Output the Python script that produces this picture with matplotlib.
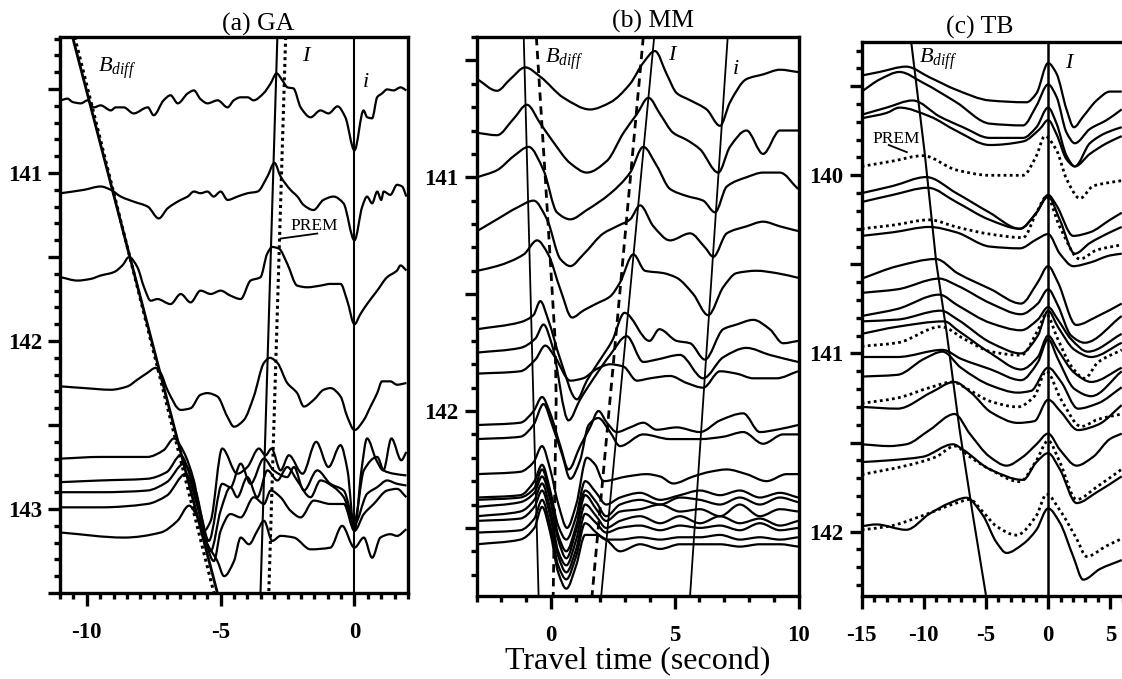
import matplotlib
matplotlib.use('Agg')
import matplotlib.pyplot as plt
from matplotlib.ticker import MultipleLocator, FuncFormatter
from matplotlib.path import Path
from matplotlib.patches import PathPatch

plt.rcParams['font.family'] = ['Liberation Serif', 'DejaVu Serif']
plt.rcParams['font.weight'] = 'bold'
plt.rcParams['mathtext.fontset'] = 'custom'
plt.rcParams['mathtext.rm'] = 'Liberation Serif:weight=normal'
plt.rcParams['mathtext.it'] = 'Liberation Serif:style=italic:weight=normal'

# ---------------- (a) GA : travel time (s) vs distance (deg) ----------------
ga_t1 = [-10.97,-10.72,-10.53,-10.22,-9.97,-9.74,-9.48,-9.1,-8.92,-8.62,-8.25,-7.72,-7.5,-7.13,-6.87,-6.6,-6.23,-6.0,-5.75,-5.49,-5.11,-4.74,-4.51,-4.25,-3.99,-3.77,-3.4,-3.13,-2.91,-2.69,-2.5,-2.28,-2.01,-1.64,-1.27,-0.97,-0.63,-0.34,0.0,0.34,0.47,0.66,0.85,1.03,1.22,1.46,1.72,1.94]
ga_d1 = [140.567,140.557,140.577,140.585,140.567,140.609,140.597,140.627,140.609,140.609,140.645,140.609,140.656,140.567,140.537,140.585,140.526,140.508,140.56,140.585,140.567,140.609,140.567,140.549,140.549,140.567,140.526,140.466,140.407,140.449,140.49,140.496,140.609,140.668,140.627,140.645,140.603,140.668,140.865,140.627,140.667,140.674,140.548,140.526,140.502,140.508,140.49,140.508]
ga_t2 = [-10.97,-10.11,-9.48,-9.1,-8.73,-8.25,-7.72,-7.31,-6.98,-6.49,-6.23,-6.0,-5.75,-5.49,-5.26,-5.0,-4.74,-4.37,-3.99,-3.62,-3.25,-2.99,-2.76,-2.39,-2.13,-1.9,-1.53,-1.16,-0.78,-0.41,0.0,0.29,0.47,0.66,0.85,1.0,1.09,1.34,1.59,1.78,1.94]
ga_d2 = [141.12,141.10,141.08,141.10,141.14,141.17,141.20,141.27,141.21,141.16,141.14,141.11,141.12,141.11,141.14,141.11,141.16,141.14,141.12,141.11,141.02,140.94,141.02,141.10,141.14,141.19,141.22,141.16,141.14,141.18,141.40,141.20,141.14,141.18,141.11,141.16,141.11,141.13,141.07,141.08,141.14]
ga_t3 = [-10.97,-10.35,-9.85,-9.48,-8.99,-8.67,-8.42,-8.11,-7.86,-7.61,-7.36,-6.87,-6.49,-6.12,-5.75,-5.37,-5.0,-4.63,-4.25,-3.88,-3.51,-3.26,-3.07,-2.82,-2.51,-2.14,-1.76,-1.27,-0.9,-0.52,-0.27,0.0,0.22,0.47,0.85,1.22,1.59,1.72,1.94]
ga_d3 = [141.62,141.64,141.63,141.61,141.59,141.55,141.50,141.56,141.68,141.76,141.75,141.78,141.72,141.77,141.70,141.72,141.70,141.73,141.75,141.64,141.62,141.48,141.44,141.45,141.54,141.67,141.68,141.67,141.66,141.66,141.76,141.90,141.84,141.78,141.70,141.62,141.58,141.55,141.58]
ga_t4 = [-10.97,-10.1,-9.1,-8.48,-8.11,-7.74,-7.43,-7.24,-6.99,-6.49,-6.12,-5.75,-5.5,-5.12,-4.75,-4.5,-4.13,-3.76,-3.38,-3.16,-2.88,-2.51,-2.14,-1.89,-1.52,-1.15,-0.9,-0.52,-0.27,0.0,0.35,0.6,0.85,1.03,1.34,1.59,1.94]
ga_d4 = [142.27,142.28,142.29,142.27,142.23,142.19,142.16,142.19,142.29,142.41,142.40,142.32,142.31,142.33,142.45,142.51,142.47,142.33,142.13,142.10,142.13,142.25,142.31,142.39,142.35,142.29,142.28,142.33,142.45,142.53,142.47,142.39,142.31,142.24,142.24,142.26,142.25]
ga_t5 = [-10.97,-9.48,-7.74,-7.13,-6.74,-6.38,-6.0,-5.62,-5.37,-4.94,-4.38,-4.0,-3.57,-3.32,-3.1,-2.76,-2.45,-1.94,-1.43,-0.97,-0.52,-0.26,0.0,0.26,0.47,0.82,1.08,1.38,1.75,1.94]
ga_d5 = [142.70,142.69,142.69,142.65,142.58,142.66,142.83,143.13,143.07,142.64,142.79,142.75,142.64,142.68,142.64,142.77,142.68,142.79,142.60,142.75,142.62,142.77,143.13,142.77,142.58,142.71,142.77,142.58,142.71,142.66]
ga_t6 = [-10.97,-9.48,-7.74,-7.01,-6.49,-6.12,-5.75,-5.44,-4.94,-4.63,-4.25,-3.88,-3.38,-3.02,-2.51,-2.26,-1.89,-1.39,-0.9,-0.4,0.0,0.35,0.85,1.09,1.47,1.94]
ga_d6 = [142.84,142.83,142.82,142.78,142.68,142.81,143.02,143.19,142.85,142.87,142.73,142.85,142.70,142.77,142.81,142.75,142.89,142.77,142.85,142.89,143.07,142.77,142.69,142.77,142.79,142.80]
ga_t7 = [-10.97,-9.48,-7.74,-7.01,-6.37,-5.93,-5.37,-5.0,-4.63,-4.38,-4.0,-3.63,-3.25,-2.88,-2.51,-2.14,-1.64,-1.27,-0.77,-0.4,0.0,0.47,0.85,1.22,1.59,1.94]
ga_d7 = [142.90,142.90,142.89,142.84,142.73,142.89,143.25,143.01,142.87,142.93,142.81,142.93,142.77,142.83,142.75,142.83,142.93,142.83,142.87,142.93,143.09,142.91,142.87,142.83,142.85,142.86]
ga_t8 = [-10.97,-9.48,-7.74,-7.01,-6.3,-5.82,-5.25,-5.0,-4.63,-4.25,-3.76,-3.38,-3.13,-2.76,-2.39,-2.01,-1.52,-0.9,-0.4,0.0,0.35,0.72,1.22,1.59,1.94]
ga_d8 = [142.99,142.99,142.97,142.92,142.79,143.01,143.31,143.13,143.03,143.05,142.93,142.97,142.89,142.93,143.01,143.05,142.95,142.97,142.97,143.13,143.03,142.97,142.89,142.88,142.93]
ga_t9 = [-10.97,-8.61,-7.24,-6.61,-6.18,-5.86,-5.49,-5.12,-4.87,-4.5,-4.25,-3.94,-3.63,-3.38,-3.07,-2.76,-2.26,-1.64,-0.9,-0.46,0.0,0.35,0.66,0.97,1.34,1.59,1.94]
ga_d9 = [143.14,143.17,143.14,143.07,142.98,143.05,143.21,143.31,143.40,143.31,143.17,143.21,143.13,143.07,143.19,143.16,143.17,143.24,143.23,143.10,143.23,143.17,143.29,143.17,143.15,143.16,143.12]

# phase lines (a)
ga_line_d = [140.19, 143.5]
ga_bdiff_t = [-10.53, -5.12]
ga_bdiff_prem_t = [-10.45, -5.25]
ga_I_t = [-2.88, -3.51]
ga_I_prem_t = [-2.57, -3.20]
ga_i_t = [0.0, 0.0]

# ---------------- (b) MM ----------------
mm_t1 = [-2.98,-2.18,-1.64,-1.04,-0.43,0.51,1.58,2.39,3.2,3.73,4.2,4.68,5.08,5.61,6.29,6.83,7.23,7.9,8.57,9.25,9.98]
mm_d1 = [140.58,140.63,140.58,140.53,140.57,140.66,140.71,140.68,140.60,140.51,140.46,140.56,140.64,140.67,140.71,140.78,140.68,140.58,140.56,140.54,140.55]
mm_t2 = [-2.98,-2.18,-1.51,-0.97,-0.43,0.1,0.78,1.45,2.26,2.93,3.47,3.94,4.41,4.94,5.48,6.02,6.76,7.23,7.9,8.57,9.25,9.98]
mm_d2 = [140.81,140.82,140.75,140.69,140.77,140.85,140.94,140.98,140.93,140.81,140.73,140.66,140.73,140.81,140.84,140.88,140.98,140.87,140.80,140.90,140.80,140.80]
mm_t3 = [-2.98,-2.18,-1.51,-0.9,-0.3,0.24,0.78,1.45,2.39,3.2,3.73,4.27,4.81,5.48,6.15,6.63,7.1,7.9,8.57,9.25,9.98]
mm_d3 = [141.00,140.97,140.91,140.87,140.97,141.15,141.18,141.14,141.07,140.98,140.87,140.95,141.05,141.08,141.10,141.15,141.04,141.00,140.98,140.98,141.05]
mm_t4 = [-2.98,-2.18,-1.37,-0.7,-0.16,0.38,0.78,1.31,2.12,2.66,3.2,3.6,4.14,4.81,5.62,6.22,6.56,7.1,7.9,8.57,9.25,9.98]
mm_d4 = [141.23,141.18,141.13,141.10,141.18,141.35,141.38,141.33,141.24,141.21,141.18,141.12,141.21,141.27,141.24,141.30,141.34,141.24,141.21,141.19,141.21,141.23]
mm_t5 = [-2.98,-2.18,-1.1,-0.56,-0.11,0.38,0.85,1.31,1.85,2.39,2.79,3.33,3.8,4.54,5.08,5.75,6.35,6.96,7.5,8.31,9.11,9.98]
mm_d5 = [141.40,141.38,141.33,141.27,141.33,141.48,141.60,141.57,141.54,141.51,141.45,141.33,141.40,141.41,141.43,141.50,141.59,141.47,141.41,141.40,141.41,141.43]
mm_t6 = [-2.98,-1.24,-0.71,-0.43,-0.11,0.38,1.05,1.45,1.99,2.47,2.97,3.98,4.38,5.08,5.62,6.22,6.96,7.5,8.17,8.84,9.38,9.98]
mm_d6 = [141.65,141.62,141.59,141.53,141.61,141.78,141.95,141.87,141.78,141.70,141.58,141.70,141.65,141.70,141.71,141.78,141.65,141.63,141.61,141.65,141.71,141.70]
mm_t7 = [-2.98,-1.24,-0.63,-0.3,0.05,0.71,1.18,1.79,2.39,3.06,3.73,4.27,5.21,6.15,6.96,7.9,8.84,9.98]
mm_d7 = [141.75,141.73,141.69,141.63,141.72,142.04,141.95,141.85,141.76,141.68,141.79,141.78,141.76,141.86,141.77,141.73,141.76,141.79]
mm_t8 = [-2.98,-1.24,-0.63,-0.23,0.17,0.78,1.3,1.85,2.39,2.93,3.47,4.01,4.81,5.48,6.15,6.83,7.5,8.17,9.11,9.98]
mm_d8 = [141.84,141.83,141.78,141.72,141.77,141.87,141.86,141.82,141.80,141.81,141.87,141.86,141.85,141.88,141.90,141.83,141.84,141.86,141.86,141.83]
mm_t9 = [-2.98,-1.24,-0.7,-0.36,-0.03,0.38,0.71,1.18,1.58,1.92,2.26,2.66,3.2,3.73,4.27,5.08,6.02,6.83,7.77,8.44,9.11,9.98]
mm_d9 = [142.06,142.05,142.00,141.94,142.01,142.15,142.25,142.15,142.07,142.00,142.05,142.09,142.07,142.05,142.08,142.07,142.09,142.04,142.01,142.09,142.08,142.06]
mm_t10 = [-2.98,-1.24,-0.71,-0.3,0.05,0.46,0.78,1.18,1.52,1.91,2.39,2.79,3.73,4.81,6.02,6.96,7.77,8.57,9.38,9.98]
mm_d10 = [142.12,142.11,142.06,141.97,142.06,142.19,142.29,142.21,142.06,142.03,142.09,142.15,142.10,142.12,142.12,142.11,142.09,142.14,142.10,142.10]
mm_t11 = [-2.98,-1.24,-0.71,-0.36,-0.03,0.3,0.65,1.02,1.45,1.79,2.12,3.06,3.87,4.41,4.94,5.75,6.42,7.1,7.9,8.71,9.52,9.98]
mm_d11 = [142.27,142.26,142.22,142.15,142.25,142.40,142.50,142.40,142.20,142.23,142.30,142.28,142.27,142.28,142.31,142.28,142.26,142.25,142.27,142.30,142.27,142.27]
# lower cluster read on a common set of times
mm_tgrid = [-2.98,-1.24,-0.67,-0.36,-0.03,0.29,0.62,1.02,1.38,1.83,2.23,2.79,3.6,4.41,5.21,6.02,6.83,7.63,8.44,9.25,9.98]
mm_d12 = [142.37,142.36,142.30,142.23,142.34,142.49,142.55,142.45,142.30,142.35,142.40,142.37,142.35,142.38,142.36,142.34,142.36,142.34,142.37,142.35,142.37]
mm_d13 = [142.38,142.37,142.33,142.25,142.36,142.53,142.60,142.49,142.34,142.39,142.45,142.40,142.38,142.40,142.37,142.38,142.40,142.37,142.40,142.37,142.39]
mm_d14 = [142.41,142.39,142.35,142.28,142.38,142.55,142.63,142.51,142.36,142.42,142.47,142.43,142.42,142.40,142.43,142.42,142.45,142.40,142.45,142.42,142.43]
mm_d15 = [142.45,142.43,142.38,142.31,142.42,142.60,142.66,142.55,142.40,142.45,142.50,142.47,142.45,142.48,142.45,142.48,142.45,142.48,142.46,142.49,142.47]
mm_d16 = [142.47,142.46,142.41,142.34,142.45,142.62,142.69,142.59,142.44,142.48,142.52,142.50,142.49,142.51,142.49,142.50,142.49,142.51,142.48,142.51,142.50]
mm_d17 = [142.52,142.51,142.46,142.38,142.49,142.66,142.72,142.62,142.48,142.52,142.55,142.55,142.54,142.55,142.54,142.54,142.53,142.55,142.54,142.55,142.54]
mm_d18 = [142.57,142.55,142.50,142.41,142.52,142.69,142.76,142.66,142.53,142.53,142.55,142.60,142.57,142.59,142.57,142.57,142.57,142.58,142.57,142.57,142.58]

# phase lines (b)
mm_line_d = [140.40, 142.79]
mm_bdiff_t = [-1.10, -0.50]
mm_I_t = [4.17, 2.03]
mm_I_prem_t = [3.73, 1.66]
mm_i_t = [7.14, 5.62]
mm_bdiff_prem_t = [-0.59, -0.23, 0.17, 0.21, 0.09]
mm_bdiff_prem_d = [140.40, 141.0, 141.7, 141.95, 142.79]

# ---------------- (c) TB ----------------
tb_t1 = [-15,-13.58,-11.42,-9.54,-7.39,-4.7,-1.74,-0.94,0,0.68,1.48,2.07,2.82,3.9,4.98,5.92]
tb_d1 = [139.44,139.42,139.39,139.45,139.52,139.58,139.59,139.54,139.37,139.43,139.63,139.73,139.67,139.58,139.53,139.53]
tb_t2 = [-15,-13.5,-11.96,-10.08,-7.39,-4.7,-2.02,-0.94,0,0.68,1.48,2.15,3.36,4.71,5.92]
tb_d2 = [139.53,139.46,139.42,139.48,139.59,139.71,139.72,139.61,139.49,139.56,139.76,139.82,139.74,139.69,139.63]
tb_t3 = [-15,-13.0,-10.89,-8.73,-6.85,-4.7,-2.02,-0.94,0,0.68,1.48,2.15,3.36,4.71,5.92]
tb_d3 = [139.66,139.62,139.58,139.67,139.73,139.79,139.79,139.73,139.62,139.71,139.89,139.95,139.82,139.76,139.73]
tb_t4 = [-15,-13.0,-11.96,-9.5,-7.39,-4.7,-2.02,-0.67,0,0.68,1.48,2.15,3.36,4.71,5.92]
tb_d4 = [139.68,139.65,139.62,139.67,139.75,139.83,139.81,139.74,139.69,139.77,139.91,139.95,139.88,139.82,139.78]
tb_t6 = [-15,-12.5,-9.81,-7.39,-4.7,-2.28,-0.94,0,0.68,2.02,3.36,4.98,5.92]
tb_d6 = [140.10,140.06,140.01,140.10,140.21,140.30,140.21,140.11,140.17,140.34,140.32,140.25,140.21]
tb_t7 = [-15,-12.5,-9.68,-7.39,-4.7,-2.28,-0.94,0,0.94,2.15,3.36,4.98,5.92]
tb_d7 = [140.15,140.11,140.07,140.15,140.25,140.30,140.21,140.12,140.25,140.44,140.38,140.32,140.29]
tb_t9 = [-15,-12.5,-9.54,-7.39,-4.7,-2.28,-0.94,0,0.94,2.02,3.36,4.98,5.92]
tb_d9 = [140.34,140.32,140.29,140.32,140.40,140.41,140.36,140.33,140.44,140.51,140.49,140.45,140.44]
tb_t10 = [-15,-12.12,-9.03,-7.28,-4.6,-2.18,-0.83,0,0.78,2.26,4.01,5.92]
tb_d10 = [140.58,140.51,140.47,140.55,140.64,140.72,140.60,140.51,140.60,140.84,140.79,140.72]
tb_t11 = [-15,-12.12,-8.76,-7.28,-4.6,-2.18,-0.83,0,0.78,1.85,2.94,5.92]
tb_d11 = [140.66,140.64,140.58,140.62,140.72,140.78,140.72,140.64,140.73,140.90,140.94,140.79]
tb_t12 = [-15,-12.12,-8.76,-7.28,-4.6,-2.18,-0.83,0,0.78,1.85,3.2,5.92]
tb_d12 = [140.79,140.75,140.67,140.73,140.83,140.87,140.81,140.74,140.81,140.92,140.99,140.89]
tb_t13 = [-15,-12.12,-8.63,-7.28,-4.6,-2.18,-0.83,0,0.78,2.13,3.47,5.92]
tb_d13 = [140.82,140.81,140.76,140.81,140.94,141.00,140.90,140.76,140.85,140.98,141.02,140.94]
tb_t14 = [-15,-12.12,-8.35,-7.28,-4.6,-2.18,-0.83,0,0.78,2.13,3.47,5.92]
tb_d14 = [140.89,140.85,140.82,140.87,141.00,141.09,141.02,140.90,140.98,141.11,141.16,141.08]
tb_t16 = [-15,-12.12,-8.49,-7.02,-4.6,-2.18,-0.83,0,0.78,2.13,3.47,5.92]
tb_d16 = [141.02,141.02,140.98,141.03,141.09,141.15,141.05,140.92,141.03,141.20,141.24,141.10]
tb_t17 = [-15,-12.12,-9.97,-8.49,-7.02,-4.6,-2.44,-1.37,0,1.05,2.4,4.01,5.92]
tb_d17 = [141.13,141.12,141.03,140.99,141.08,141.18,141.22,141.21,141.08,141.16,141.31,141.28,141.19]
tb_t19 = [-15,-12.12,-9.44,-7.55,-6.21,-4.6,-2.44,-1.1,0,1.05,2.4,4.01,5.92]
tb_d19 = [141.30,141.31,141.22,141.16,141.22,141.33,141.39,141.38,141.26,141.33,141.43,141.40,141.29]
tb_t20 = [-15,-12.77,-11.42,-9.54,-7.52,-6.31,-4.7,-3.35,-2.02,-0.94,0,0.94,2.29,3.63,4.98,5.92]
tb_d20 = [141.51,141.52,141.51,141.43,141.34,141.45,141.58,141.63,141.58,141.51,141.45,141.54,141.63,141.58,141.48,141.45]
tb_t21 = [-15,-12.77,-10.08,-7.66,-6.85,-4.7,-2.02,-0.94,0,0.94,2.29,3.9,5.92]
tb_d21 = [141.61,141.60,141.58,141.51,141.54,141.65,141.71,141.61,141.56,141.65,141.84,141.78,141.69]
tb_t23 = [-15,-13.84,-11.42,-9.54,-7.93,-6.58,-5.24,-4.16,-3.35,-2.02,-0.94,0,0.94,2.02,2.82,4.17,5.92]
tb_d23 = [141.97,141.96,141.99,141.90,141.84,141.81,141.91,142.06,142.12,142.07,141.99,141.87,141.95,142.14,142.27,142.21,142.16]
# PREM synthetics (dotted)
tb_t5 = [-15,-12.5,-10.08,-7.39,-4.7,-2.02,-0.94,-0.27,0.68,1.48,2.56,3.63,4.98,5.92]
tb_d5 = [139.95,139.92,139.89,139.97,140.00,140.00,139.89,139.78,139.86,140.02,140.13,140.06,140.04,140.03]
tb_t8 = [-15,-12.5,-9.54,-7.39,-4.7,-2.02,-0.94,-0.13,0.94,2.56,3.9,5.92]
tb_d8 = [140.30,140.28,140.25,140.29,140.33,140.35,140.21,140.12,140.29,140.47,140.42,140.39]
tb_t15 = [-15,-12.12,-8.63,-6.72,-4.6,-2.18,-0.83,-0.16,0.78,1.85,2.94,4.01,5.92]
tb_d15 = [140.96,140.94,140.85,140.92,140.99,141.01,140.87,140.78,140.92,141.07,141.14,141.05,140.98]
tb_t18 = [-15,-12.12,-9.44,-7.69,-6.48,-4.6,-2.44,-1.1,-0.16,1.05,2.66,4.01,5.92]
tb_d18 = [141.28,141.25,141.19,141.16,141.20,141.27,141.30,141.24,141.10,141.26,141.41,141.37,141.34]
tb_t22 = [-15,-11.42,-9.0,-7.52,-6.31,-4.7,-2.28,-0.94,0,0.94,2.29,3.9,5.92]
tb_d22 = [141.68,141.63,141.58,141.52,141.58,141.65,141.72,141.60,141.49,141.61,141.82,141.75,141.65]
tb_t24 = [-15,-12.77,-10.08,-7.39,-6.31,-5.24,-4.16,-2.55,-0.94,-0.13,0.94,2.29,3.1,4.71,5.92]
tb_d24 = [141.99,141.97,141.91,141.84,141.82,141.89,141.97,142.02,141.91,141.79,141.88,142.04,142.14,142.08,142.04]

# phase lines (c)
tb_bdiff_t = [-11.02, -9.94, -9.0, -8.19, -7.12, -6.05, -5.02]
tb_bdiff_d = [139.25, 139.87, 140.49, 140.87, 141.43, 141.91, 142.35]
tb_I_t = [0.0, 0.0]
tb_I_d = [139.25, 142.36]

LW = 1.6
DOT = (0, (1.0, 1.2))
DASH = (0, (3.0, 2.0))


def smooth_trace(ax, t, d, **kw):
    # monotone (shape preserving) cubic drawn as a Bezier path through every sample
    n = len(t)
    h = [t[k + 1] - t[k] for k in range(n - 1)]
    s = [(d[k + 1] - d[k]) / h[k] for k in range(n - 1)]
    m = [0.0] * n
    m[0], m[-1] = s[0], s[-1]
    for k in range(1, n - 1):
        if s[k - 1] * s[k] <= 0:
            m[k] = 0.0
        else:
            w1 = 2 * h[k] + h[k - 1]
            w2 = h[k] + 2 * h[k - 1]
            m[k] = (w1 + w2) / (w1 / s[k - 1] + w2 / s[k])
    verts = [(t[0], d[0])]
    codes = [Path.MOVETO]
    for k in range(n - 1):
        verts += [(t[k] + h[k] / 3, d[k] + m[k] * h[k] / 3),
                  (t[k + 1] - h[k] / 3, d[k + 1] - m[k + 1] * h[k] / 3),
                  (t[k + 1], d[k + 1])]
        codes += [Path.CURVE4] * 3
    ax.add_patch(PathPatch(Path(verts, codes), fill=False, edgecolor='black',
                           joinstyle='round', **kw))


def int_label(v, pos):
    return '%d' % round(v) if abs(v - round(v)) < 1e-6 else ''


def style(ax, xlim, ylim, xmaj, xmin, right=True):
    ax.set_xlim(*xlim)
    ax.set_ylim(*ylim)
    ax.xaxis.set_major_locator(MultipleLocator(xmaj))
    ax.xaxis.set_minor_locator(MultipleLocator(xmin))
    ax.yaxis.set_major_locator(MultipleLocator(0.5))
    ax.yaxis.set_minor_locator(MultipleLocator(0.1))
    ax.yaxis.set_major_formatter(FuncFormatter(int_label))
    ax.xaxis.set_major_formatter(FuncFormatter(lambda v, p: '%d' % round(v)))
    ax.tick_params(which='major', direction='out', length=9, width=2.4,
                   labelsize=16.5, pad=4)
    ax.tick_params(axis='x', which='major', pad=12)
    ax.tick_params(which='minor', direction='out', length=4.5, width=2.4)
    for sp in ax.spines.values():
        sp.set_linewidth(2.4)
    ax.spines['right'].set_visible(right)


fig = plt.figure(figsize=(11.22, 6.79), dpi=100)
ax_a = fig.add_axes([60 / 1122, 86 / 679, 348 / 1122, 556 / 679])
ax_b = fig.add_axes([476.7 / 1122, 83.3 / 679, 321.8 / 1122, 558.7 / 679])
ax_c = fig.add_axes([861.7 / 1122, 83.3 / 679, 261 / 1122, 554 / 679])

# ---- panel (a)
for t, d in [(ga_t1, ga_d1), (ga_t2, ga_d2), (ga_t3, ga_d3), (ga_t4, ga_d4),
             (ga_t5, ga_d5), (ga_t6, ga_d6), (ga_t7, ga_d7), (ga_t8, ga_d8),
             (ga_t9, ga_d9)]:
    smooth_trace(ax_a, t, d, lw=LW)
ax_a.plot(ga_bdiff_t, ga_line_d, color='black', lw=2.0)
ax_a.plot(ga_bdiff_prem_t, ga_line_d, color='black', lw=2.2, ls=DOT)
ax_a.plot(ga_I_t, ga_line_d, color='black', lw=1.5)
ax_a.plot(ga_I_prem_t, ga_line_d, color='black', lw=2.2, ls=DOT)
ax_a.plot(ga_i_t, ga_line_d, color='black', lw=1.5)
ax_a.plot([-2.76, -1.39], [141.39, 141.36], color='black', lw=1.3)
ax_a.text(-2.39, 141.34, 'PREM', fontsize=12.5, fontweight='normal')
ax_a.text(-9.59, 140.40, r'$B_{diff}$', fontsize=16)
ax_a.text(-1.95, 140.33, r'$I$', fontsize=16)
ax_a.text(0.3, 140.49, r'$i$', fontsize=16)
style(ax_a, (-11, 2), (143.5, 140.19), 5, 0.5)
ax_a.text(0.569, 1.022, '(a) GA', transform=ax_a.transAxes, ha='center',
          va='center', fontsize=18.5, fontweight='normal')

# ---- panel (b)
for t, d in [(mm_t1, mm_d1), (mm_t2, mm_d2), (mm_t3, mm_d3), (mm_t4, mm_d4),
             (mm_t5, mm_d5), (mm_t6, mm_d6), (mm_t7, mm_d7), (mm_t8, mm_d8),
             (mm_t9, mm_d9), (mm_t10, mm_d10), (mm_t11, mm_d11)]:
    smooth_trace(ax_b, t, d, lw=LW)
for d in [mm_d12, mm_d13, mm_d14, mm_d15, mm_d16, mm_d17, mm_d18]:
    smooth_trace(ax_b, mm_tgrid, d, lw=LW)
ax_b.plot(mm_bdiff_t, mm_line_d, color='black', lw=1.3)
ax_b.plot(mm_bdiff_prem_t, mm_bdiff_prem_d, color='black', lw=2.0, ls=DASH)
ax_b.plot(mm_I_t, mm_line_d, color='black', lw=1.3)
ax_b.plot(mm_I_prem_t, mm_line_d, color='black', lw=2.0, ls=DASH)
ax_b.plot(mm_i_t, mm_line_d, color='black', lw=1.3)
ax_b.text(-0.23, 140.51, r'$B_{diff}$', fontsize=16)
ax_b.text(4.73, 140.50, r'$I$', fontsize=16)
ax_b.text(7.31, 140.56, r'$i$', fontsize=16)
style(ax_b, (-3, 10), (142.79, 140.40), 5, 1)
ax_b.text(0.548, 1.027, '(b) MM', transform=ax_b.transAxes, ha='center',
          va='center', fontsize=18.5, fontweight='normal')

# ---- panel (c)
for t, d in [(tb_t1, tb_d1), (tb_t2, tb_d2), (tb_t3, tb_d3), (tb_t4, tb_d4),
             (tb_t6, tb_d6), (tb_t7, tb_d7), (tb_t9, tb_d9), (tb_t10, tb_d10),
             (tb_t11, tb_d11), (tb_t12, tb_d12), (tb_t13, tb_d13),
             (tb_t14, tb_d14), (tb_t16, tb_d16), (tb_t17, tb_d17),
             (tb_t19, tb_d19), (tb_t20, tb_d20), (tb_t21, tb_d21),
             (tb_t23, tb_d23)]:
    smooth_trace(ax_c, t, d, lw=LW)
for t, d in [(tb_t5, tb_d5), (tb_t8, tb_d8), (tb_t15, tb_d15),
             (tb_t18, tb_d18), (tb_t22, tb_d22), (tb_t24, tb_d24)]:
    smooth_trace(ax_c, t, d, lw=2.0, linestyle=DOT)
ax_c.plot(tb_bdiff_t, tb_bdiff_d, color='black', lw=1.5)
ax_c.plot(tb_I_t, tb_I_d, color='black', lw=1.8)
ax_c.plot([-12.82, -11.37], [139.83, 139.87], color='black', lw=1.3)
ax_c.text(-14.1, 139.82, 'PREM', fontsize=12.5, fontweight='normal')
ax_c.text(-10.35, 139.37, r'$B_{diff}$', fontsize=16)
ax_c.text(1.35, 139.40, r'$I$', fontsize=16)
style(ax_c, (-15, 6), (142.36, 139.25), 5, 1, right=False)
ax_c.text(0.453, 1.025, '(c) TB', transform=ax_c.transAxes, ha='center',
          va='center', fontsize=18.5, fontweight='normal')

fig.text(638 / 1122, 1 - 662 / 679, 'Travel time (second)', ha='center',
         va='center', fontsize=23, fontweight='normal')

fig.savefig('out.png', dpi=100)
